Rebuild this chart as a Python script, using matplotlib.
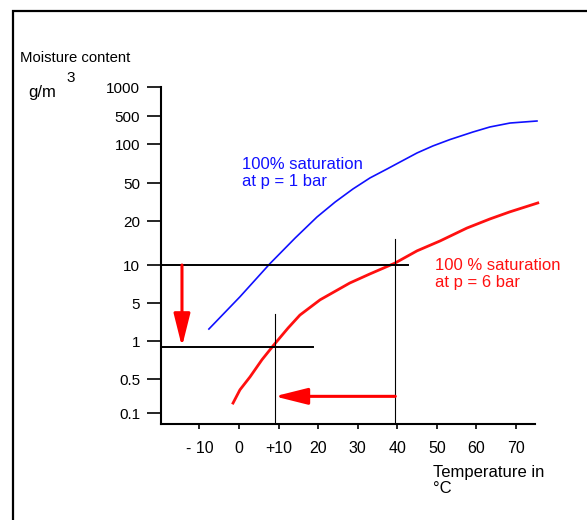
import numpy as np
import matplotlib
matplotlib.use("Agg")
import matplotlib.pyplot as plt
from matplotlib.patches import Rectangle

plt.rcParams['font.family'] = ['Liberation Sans', 'DejaVu Sans']

# ---------------- data ----------------
# saturation curve at p = 1 bar (temperature degC, moisture g/m3)
temp_1bar = [-7.6, 0.25, 7.8, 14.2, 19.7, 24.3, 28.8, 33.1, 37.4, 40.7, 45.0,
             49.0, 53.3, 59.1, 63.4, 68.5, 75.3]
moist_1bar = [1.66, 5.6, 10.2, 15.3, 22, 31.6, 43.3, 54.7, 64.1, 72.6, 85.3,
              96.6, 129, 199, 266, 334, 375]
# saturation curve at p = 6 bar
temp_6bar = [-1.5, 0.25, 2.8, 5.8, 8.8, 12.4, 15.4, 20.5, 28.0, 33.1, 39.4,
             45.0, 50.8, 57.6, 63.4, 68.4, 75.5]
moist_6bar = [0.16, 0.30, 0.52, 0.71, 0.93, 1.73, 3.0, 5.3, 7.2, 8.5, 10.3,
              12.5, 14.6, 17.9, 21, 24.9, 30.9]

# construction lines
hline_y = [10, 0.9]
hline_xend = [42.7, 18.7]
vline_x = [9.0, 39.5]
vline_ytop = [3.2, 15.0]
# red arrows: (x0, y0) -> (x1, y1)
arrow_down = ((-14.4, 10.0), (-14.4, 0.9))
arrow_left = ((39.5, 0.22), (9.0, 0.22))

y_ticks = [1000, 500, 100, 50, 20, 10, 5, 1, 0.5, 0.1]
y_ticklabels = ['1000', '500', '100', '50', '20', '10', '5', '1', '0.5', '0.1']
x_ticks = [-10, 0, 10, 20, 30, 40, 50, 60, 70]
x_ticklabels = ['- 10', '0', '+10', '20', '30', '40', '50', '60', '70']

# ---------------- the hand drawn (non-uniform) y axis ----------------
# anchor values and their vertical position on the original drawing
anchor_val = np.array([1e-3, 0.1, 0.5, 1, 5, 10, 20, 50, 100, 500, 1000, 1e5])
anchor_pos = -np.array([509.0, 413, 379, 341, 303, 265, 221, 183, 144, 116, 87, -106])
anchor_log = np.log10(anchor_val)


def fwd(v):
    v = np.clip(np.asarray(v, dtype=float), 1e-3, 1e5)
    return np.interp(np.log10(v), anchor_log, anchor_pos)


def inv(p):
    return 10 ** np.interp(np.asarray(p, dtype=float), anchor_pos, anchor_log)


W, H = 587, 520
fig = plt.figure(figsize=(W / 100, H / 100), dpi=100)
ax = fig.add_axes([161 / W, 1 - 424 / H, (535 - 161) / W, (424 - 87) / H])
ax.set_yscale('function', functions=(fwd, inv))
ax.set_xlim(-19.7, 74.8)
ax.set_ylim(0.059, 1000)

ax.plot(temp_1bar, moist_1bar, color='#1010ff', lw=1.2, clip_on=False)
ax.plot(temp_6bar, moist_6bar, color='#ff1010', lw=2.0, clip_on=False)

for y, xe in zip(hline_y, hline_xend):
    ax.plot([-19.7, xe], [y, y], color='black', lw=1.4)
for x, yt in zip(vline_x, vline_ytop):
    ax.plot([x, x], [0.059, yt], color='black', lw=0.8)

for (p0, p1) in (arrow_down, arrow_left):
    ax.annotate('', xy=p1, xytext=p0,
                arrowprops=dict(arrowstyle='-|>,head_length=1.0,head_width=0.25',
                                color='#ff0000', lw=2.2, mutation_scale=20,
                                shrinkA=0, shrinkB=0))

ax.text(0.8, 60, '100% saturation\nat p = 1 bar', color='#1010ff', fontsize=12,
        ha='left', va='center', linespacing=1.2)
ax.text(49.5, 8.5, '100 % saturation\nat p = 6 bar', color='#ff1010', fontsize=12,
        ha='left', va='center', linespacing=1.2, clip_on=False)

ax.set_yticks(y_ticks)
ax.set_yticklabels(y_ticklabels)
ax.set_xticks(x_ticks)
ax.set_xticklabels(x_ticklabels)
ax.minorticks_off()
ax.tick_params(axis='y', direction='out', length=10, width=1.2, pad=5, labelsize=11)
ax.tick_params(axis='x', direction='out', length=3.5, width=1.2, pad=9, labelsize=11.5)
for s in ('top', 'right'):
    ax.spines[s].set_visible(False)
for s in ('left', 'bottom'):
    ax.spines[s].set_linewidth(1.5)

fig.text(20 / W, 1 - 58 / H, 'Moisture content', fontsize=10.7, ha='left', va='center')
fig.text(28 / W, 1 - 93 / H, 'g/m', fontsize=12, ha='left', va='center')
fig.text(66 / W, 1 - 78 / H, '3', fontsize=11, ha='left', va='center')
fig.text(433 / W, 1 - 465 / H, 'Temperature in\n°C', fontsize=12, ha='left', va='top',
         linespacing=1.1)

top = 1 - 11 / H
fig.add_artist(Rectangle((13 / W, -0.2), 1.2, top + 0.2,
                         transform=fig.transFigure, fill=False, lw=1.6, color='black'))

fig.savefig('out.png', dpi=100)
